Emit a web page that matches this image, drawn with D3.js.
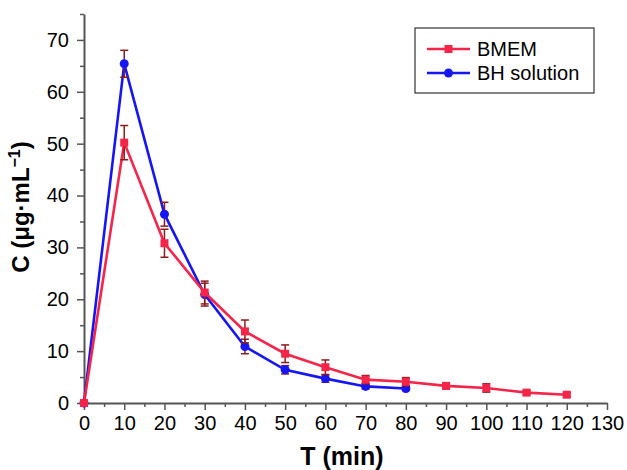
<!DOCTYPE html>
<html>
<head>
<meta charset="utf-8">
<script src="https://cdn.jsdelivr.net/npm/d3@7"></script>
<style>
  body { margin: 0; background: #fff; }
  text { font-family: "Liberation Sans", Arial, sans-serif; }
</style>
</head>
<body>
<div id="chart-area"></div>
<script>
// data
const timesBMEM = [0, 10, 20, 30, 40, 50, 60, 70, 80, 90, 100, 110, 120];
const concBMEM  = [0, 50.2, 30.8, 21.3, 13.8, 9.5, 6.9, 4.5, 4.1, 3.3, 2.9, 2.0, 1.6];
const errBMEM   = [0.3, 3.3, 2.7, 2.2, 2.2, 1.7, 1.4, 0.8, 0.8, 0.6, 0.8, 0.4, 0.4];

const timesBH = [0, 10, 20, 30, 40, 50, 60, 70, 80];
const concBH  = [0, 65.4, 36.4, 20.9, 10.9, 6.4, 4.7, 3.2, 2.8];
const errBH   = [0.3, 2.6, 2.3, 2.2, 1.4, 0.8, 0.7, 0.5, 0.4];

const xTicks = [0, 10, 20, 30, 40, 50, 60, 70, 80, 90, 100, 110, 120, 130];
const yTicks = [0, 10, 20, 30, 40, 50, 60, 70];

const W = 627, H = 470;
const svg = d3.select("#chart-area").append("svg")
  .attr("width", W)
  .attr("height", H);

const x = d3.scaleLinear().domain([0, 130]).range([84, 607]);
const y = d3.scaleLinear().domain([0, 75]).range([403, 14]);

const axisColor = "#555";

// minor ticks
svg.append("g").attr("transform", "translate(0,403)")
  .call(d3.axisBottom(x).tickValues(d3.range(5, 130, 10)).tickSize(4).tickFormat(""))
  .call(g => g.select(".domain").remove())
  .call(g => g.selectAll("line").attr("stroke", axisColor).attr("stroke-width", 1.5));
svg.append("g").attr("transform", "translate(84,0)")
  .call(d3.axisLeft(y).tickValues(d3.range(5, 76, 10)).tickSize(4).tickFormat(""))
  .call(g => g.select(".domain").remove())
  .call(g => g.selectAll("line").attr("stroke", axisColor).attr("stroke-width", 1.5));

// major axes
const xAxis = svg.append("g").attr("transform", "translate(0,403)")
  .call(d3.axisBottom(x).tickValues(xTicks).tickSize(7).tickSizeOuter(0).tickPadding(6));
const yAxis = svg.append("g").attr("transform", "translate(84,0)")
  .call(d3.axisLeft(y).tickValues(yTicks).tickSize(7).tickSizeOuter(0).tickPadding(8));

[xAxis, yAxis].forEach(a => {
  a.select(".domain").attr("stroke", axisColor).attr("stroke-width", 2);
  a.selectAll(".tick line").attr("stroke", axisColor).attr("stroke-width", 1.5);
  a.selectAll(".tick text").attr("fill", "#000").style("font-size", "20px")
    .style("font-family", "'Liberation Sans', Arial, sans-serif");
});

// axis titles
svg.append("text")
  .attr("x", 342).attr("y", 465)
  .attr("text-anchor", "middle")
  .style("font-size", "25px").style("font-weight", "bold")
  .text("T (min)");

const yTitle = svg.append("text")
  .attr("transform", "translate(29,207) rotate(-90)")
  .attr("text-anchor", "middle")
  .style("font-size", "24px").style("font-weight", "bold");
yTitle.append("tspan").text("C (μg·mL");
yTitle.append("tspan").attr("dy", -9).style("font-size", "16px").text("−1");
yTitle.append("tspan").attr("dy", 9).text(")");

const errColor = "#8b1c1c";
const redColor = "#f5254a";
const blueColor = "#1616f5";

function drawSeries(times, conc, err, color, shape) {
  const pts = times.map((t, i) => ({ t: t, c: conc[i], e: err[i] }));
  const g = svg.append("g");

  g.append("path")
    .datum(pts)
    .attr("fill", "none")
    .attr("stroke", color)
    .attr("stroke-width", 2.6)
    .attr("d", d3.line().x(d => x(d.t)).y(d => y(d.c)));

  const eb = g.selectAll(".err").data(pts).enter().append("g");
  eb.append("line")
    .attr("x1", d => x(d.t)).attr("x2", d => x(d.t))
    .attr("y1", d => y(d.c + d.e)).attr("y2", d => y(Math.max(0, d.c - d.e)))
    .attr("stroke", errColor).attr("stroke-width", 1.5);
  eb.append("line")
    .attr("x1", d => x(d.t) - 4).attr("x2", d => x(d.t) + 4)
    .attr("y1", d => y(d.c + d.e)).attr("y2", d => y(d.c + d.e))
    .attr("stroke", errColor).attr("stroke-width", 1.5);
  eb.append("line")
    .attr("x1", d => x(d.t) - 4).attr("x2", d => x(d.t) + 4)
    .attr("y1", d => y(Math.max(0, d.c - d.e))).attr("y2", d => y(Math.max(0, d.c - d.e)))
    .attr("stroke", errColor).attr("stroke-width", 1.5);

  if (shape === "square") {
    g.selectAll(".mk").data(pts).enter().append("rect")
      .attr("x", d => x(d.t) - 4).attr("y", d => y(d.c) - 4)
      .attr("width", 8).attr("height", 8)
      .attr("fill", color);
  } else {
    g.selectAll(".mk").data(pts).enter().append("circle")
      .attr("cx", d => x(d.t)).attr("cy", d => y(d.c)).attr("r", 4.5)
      .attr("fill", color);
  }
}

drawSeries(timesBH, concBH, errBH, blueColor, "circle");
drawSeries(timesBMEM, concBMEM, errBMEM, redColor, "square");

// legend
const legend = svg.append("g");
legend.append("rect")
  .attr("x", 415).attr("y", 28).attr("width", 179).attr("height", 65)
  .attr("fill", "#fff").attr("stroke", "#333").attr("stroke-width", 1.2);

const legendItems = [
  { name: "BMEM", color: redColor, shape: "square" },
  { name: "BH solution", color: blueColor, shape: "circle" }
];
legendItems.forEach((d, i) => {
  const ly = 49 + i * 24;
  legend.append("line")
    .attr("x1", 427).attr("x2", 470).attr("y1", ly).attr("y2", ly)
    .attr("stroke", d.color).attr("stroke-width", 2.6);
  if (d.shape === "square") {
    legend.append("rect").attr("x", 444.5).attr("y", ly - 4).attr("width", 8).attr("height", 8).attr("fill", d.color);
  } else {
    legend.append("circle").attr("cx", 448.5).attr("cy", ly).attr("r", 4.5).attr("fill", d.color);
  }
  legend.append("text")
    .attr("x", 477).attr("y", ly + 7)
    .style("font-size", "20px")
    .text(d.name);
});
</script>
</body>
</html>
